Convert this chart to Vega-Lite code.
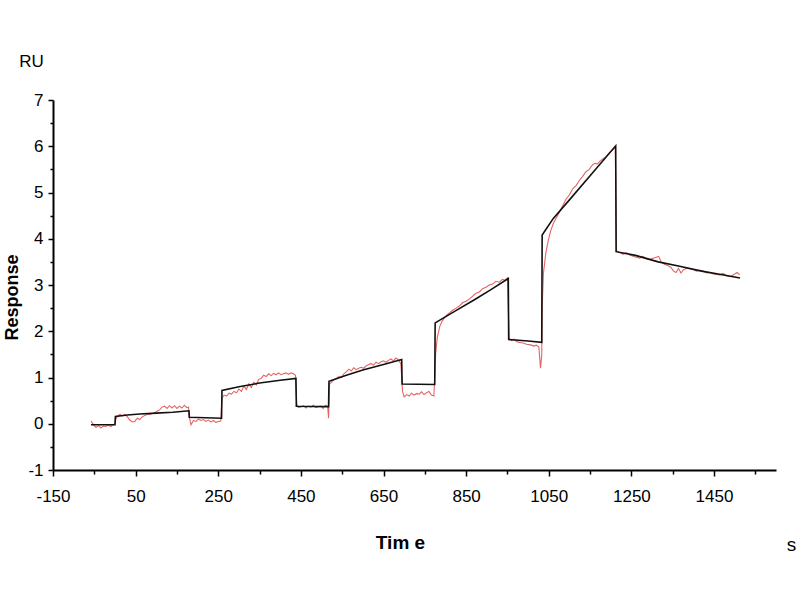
{
  "$schema": "https://vega.github.io/schema/vega-lite/v6.json",
  "width": 723,
  "height": 370,
  "autosize": {"type": "none"},
  "padding": {"left": 53, "top": 100, "right": 24, "bottom": 130},
  "background": "white",
  "config": {
    "font": "Liberation Sans Narrow, Liberation Sans, Arial, sans-serif",
    "view": {"stroke": null},
    "axis": {"grid": false, "labelColor": "black", "tickColor": "black", "domainColor": "black", "titleColor": "black", "labelFlush": false, "labelOverlap": false}
  },
  "datasets": {
    "measured": [
      {"t": -58, "v": 0.06}, {"t": -52, "v": -0.02}, {"t": -46, "v": -0.08}, {"t": -40, "v": -0.04}, {"t": -34, "v": -0.09},
      {"t": -28, "v": -0.05}, {"t": -22, "v": -0.06}, {"t": -16, "v": -0.03}, {"t": -10, "v": -0.06}, {"t": -4, "v": -0.02},
      {"t": 0, "v": 0.0}, {"t": 2, "v": 0.1}, {"t": 6, "v": 0.16}, {"t": 12, "v": 0.2}, {"t": 18, "v": 0.17},
      {"t": 24, "v": 0.2}, {"t": 30, "v": 0.15}, {"t": 36, "v": 0.08}, {"t": 42, "v": 0.04}, {"t": 48, "v": 0.05},
      {"t": 54, "v": 0.12}, {"t": 60, "v": 0.09}, {"t": 66, "v": 0.15}, {"t": 72, "v": 0.18}, {"t": 78, "v": 0.2},
      {"t": 84, "v": 0.2}, {"t": 90, "v": 0.22}, {"t": 96, "v": 0.24}, {"t": 102, "v": 0.27}, {"t": 108, "v": 0.3},
      {"t": 114, "v": 0.36}, {"t": 120, "v": 0.38}, {"t": 126, "v": 0.33}, {"t": 132, "v": 0.39}, {"t": 138, "v": 0.34},
      {"t": 144, "v": 0.39}, {"t": 150, "v": 0.33}, {"t": 156, "v": 0.38}, {"t": 162, "v": 0.34}, {"t": 168, "v": 0.4},
      {"t": 174, "v": 0.35}, {"t": 178, "v": 0.36},
      {"t": 180, "v": 0.14}, {"t": 184, "v": -0.02}, {"t": 190, "v": 0.07}, {"t": 196, "v": 0.05}, {"t": 202, "v": 0.1},
      {"t": 208, "v": 0.07}, {"t": 214, "v": 0.09}, {"t": 220, "v": 0.05}, {"t": 226, "v": 0.08}, {"t": 232, "v": 0.04},
      {"t": 238, "v": 0.07}, {"t": 244, "v": 0.03}, {"t": 250, "v": 0.05}, {"t": 256, "v": 0.06},
      {"t": 259, "v": 0.55}, {"t": 264, "v": 0.62}, {"t": 270, "v": 0.6}, {"t": 276, "v": 0.66}, {"t": 282, "v": 0.64},
      {"t": 288, "v": 0.7}, {"t": 294, "v": 0.67}, {"t": 300, "v": 0.75}, {"t": 306, "v": 0.7}, {"t": 312, "v": 0.82},
      {"t": 318, "v": 0.74}, {"t": 324, "v": 0.86}, {"t": 330, "v": 0.78}, {"t": 336, "v": 0.9}, {"t": 342, "v": 0.84},
      {"t": 348, "v": 0.96}, {"t": 354, "v": 0.98}, {"t": 360, "v": 1.05}, {"t": 366, "v": 1.02}, {"t": 372, "v": 1.08},
      {"t": 378, "v": 1.04}, {"t": 384, "v": 1.09}, {"t": 390, "v": 1.06}, {"t": 396, "v": 1.1}, {"t": 402, "v": 1.06},
      {"t": 408, "v": 1.08}, {"t": 414, "v": 1.1}, {"t": 420, "v": 1.07}, {"t": 426, "v": 1.1}, {"t": 432, "v": 1.08},
      {"t": 437, "v": 1.05},
      {"t": 440, "v": 0.42}, {"t": 444, "v": 0.35}, {"t": 450, "v": 0.36}, {"t": 456, "v": 0.39}, {"t": 462, "v": 0.34},
      {"t": 468, "v": 0.38}, {"t": 474, "v": 0.36}, {"t": 480, "v": 0.4}, {"t": 486, "v": 0.35}, {"t": 492, "v": 0.37},
      {"t": 498, "v": 0.38}, {"t": 504, "v": 0.33}, {"t": 510, "v": 0.4}, {"t": 515, "v": 0.36}, {"t": 517, "v": 0.12},
      {"t": 519, "v": 0.85}, {"t": 524, "v": 0.9}, {"t": 530, "v": 0.95}, {"t": 536, "v": 0.98}, {"t": 542, "v": 1.02},
      {"t": 548, "v": 1.0}, {"t": 554, "v": 1.08}, {"t": 560, "v": 1.12}, {"t": 566, "v": 1.18}, {"t": 572, "v": 1.14},
      {"t": 578, "v": 1.21}, {"t": 584, "v": 1.17}, {"t": 590, "v": 1.2}, {"t": 596, "v": 1.22}, {"t": 602, "v": 1.2},
      {"t": 608, "v": 1.25}, {"t": 614, "v": 1.28}, {"t": 620, "v": 1.3}, {"t": 626, "v": 1.27}, {"t": 632, "v": 1.33},
      {"t": 638, "v": 1.3}, {"t": 644, "v": 1.34}, {"t": 650, "v": 1.36}, {"t": 656, "v": 1.33}, {"t": 662, "v": 1.37},
      {"t": 668, "v": 1.4}, {"t": 674, "v": 1.36}, {"t": 680, "v": 1.42}, {"t": 686, "v": 1.38}, {"t": 692, "v": 1.3},
      {"t": 696, "v": 0.7}, {"t": 700, "v": 0.58}, {"t": 706, "v": 0.63}, {"t": 712, "v": 0.6}, {"t": 718, "v": 0.66},
      {"t": 724, "v": 0.62}, {"t": 730, "v": 0.65}, {"t": 736, "v": 0.64}, {"t": 742, "v": 0.69}, {"t": 748, "v": 0.63},
      {"t": 754, "v": 0.67}, {"t": 760, "v": 0.7}, {"t": 766, "v": 0.62}, {"t": 772, "v": 0.6},
      {"t": 776, "v": 1.5}, {"t": 780, "v": 1.85}, {"t": 786, "v": 2.1}, {"t": 792, "v": 2.22}, {"t": 798, "v": 2.3},
      {"t": 804, "v": 2.36}, {"t": 810, "v": 2.4}, {"t": 818, "v": 2.46}, {"t": 826, "v": 2.5}, {"t": 834, "v": 2.55},
      {"t": 842, "v": 2.62}, {"t": 850, "v": 2.65}, {"t": 858, "v": 2.7}, {"t": 866, "v": 2.76}, {"t": 874, "v": 2.82},
      {"t": 882, "v": 2.85}, {"t": 890, "v": 2.92}, {"t": 898, "v": 2.95}, {"t": 906, "v": 3.0}, {"t": 914, "v": 3.02},
      {"t": 922, "v": 3.08}, {"t": 930, "v": 3.06}, {"t": 938, "v": 3.12}, {"t": 944, "v": 3.1}, {"t": 950, "v": 3.15},
      {"t": 954, "v": 1.85}, {"t": 960, "v": 1.8}, {"t": 966, "v": 1.83}, {"t": 972, "v": 1.78}, {"t": 978, "v": 1.76},
      {"t": 984, "v": 1.75}, {"t": 990, "v": 1.74}, {"t": 996, "v": 1.72}, {"t": 1002, "v": 1.71}, {"t": 1008, "v": 1.7},
      {"t": 1014, "v": 1.68}, {"t": 1020, "v": 1.7}, {"t": 1026, "v": 1.66}, {"t": 1030, "v": 1.2}, {"t": 1033, "v": 1.5},
      {"t": 1034, "v": 2.5}, {"t": 1037, "v": 3.25}, {"t": 1043, "v": 3.7}, {"t": 1049, "v": 3.97}, {"t": 1055, "v": 4.18},
      {"t": 1061, "v": 4.33}, {"t": 1068, "v": 4.45}, {"t": 1076, "v": 4.58}, {"t": 1084, "v": 4.72}, {"t": 1092, "v": 4.86},
      {"t": 1100, "v": 4.95}, {"t": 1108, "v": 5.08}, {"t": 1116, "v": 5.15}, {"t": 1124, "v": 5.26}, {"t": 1132, "v": 5.35},
      {"t": 1140, "v": 5.45}, {"t": 1148, "v": 5.5}, {"t": 1156, "v": 5.6}, {"t": 1162, "v": 5.63}, {"t": 1168, "v": 5.62},
      {"t": 1174, "v": 5.68}, {"t": 1180, "v": 5.72}, {"t": 1188, "v": 5.77}, {"t": 1196, "v": 5.85}, {"t": 1204, "v": 5.92},
      {"t": 1211, "v": 5.98},
      {"t": 1214, "v": 3.74}, {"t": 1222, "v": 3.7}, {"t": 1230, "v": 3.66}, {"t": 1238, "v": 3.7}, {"t": 1246, "v": 3.65},
      {"t": 1254, "v": 3.62}, {"t": 1262, "v": 3.6}, {"t": 1270, "v": 3.58}, {"t": 1278, "v": 3.62}, {"t": 1286, "v": 3.57},
      {"t": 1294, "v": 3.55}, {"t": 1302, "v": 3.58}, {"t": 1310, "v": 3.6}, {"t": 1316, "v": 3.62}, {"t": 1322, "v": 3.5},
      {"t": 1330, "v": 3.45}, {"t": 1338, "v": 3.42}, {"t": 1346, "v": 3.38}, {"t": 1352, "v": 3.3}, {"t": 1358, "v": 3.27},
      {"t": 1364, "v": 3.36}, {"t": 1370, "v": 3.26}, {"t": 1376, "v": 3.33}, {"t": 1384, "v": 3.36}, {"t": 1392, "v": 3.35},
      {"t": 1400, "v": 3.33}, {"t": 1408, "v": 3.3}, {"t": 1416, "v": 3.32}, {"t": 1424, "v": 3.3}, {"t": 1432, "v": 3.26},
      {"t": 1440, "v": 3.27}, {"t": 1448, "v": 3.24}, {"t": 1456, "v": 3.23}, {"t": 1464, "v": 3.22}, {"t": 1472, "v": 3.25},
      {"t": 1480, "v": 3.2}, {"t": 1488, "v": 3.18}, {"t": 1494, "v": 3.2}, {"t": 1500, "v": 3.24}, {"t": 1506, "v": 3.27},
      {"t": 1512, "v": 3.22}
    ],
    "fit": [
      {"t": -58, "v": -0.02}, {"t": 0, "v": -0.02}, {"t": 1, "v": 0.16}, {"t": 30, "v": 0.19}, {"t": 60, "v": 0.21},
      {"t": 100, "v": 0.23}, {"t": 140, "v": 0.25}, {"t": 179, "v": 0.28},
      {"t": 180, "v": 0.14}, {"t": 258, "v": 0.12},
      {"t": 259, "v": 0.72}, {"t": 300, "v": 0.8}, {"t": 350, "v": 0.88}, {"t": 400, "v": 0.94}, {"t": 438, "v": 0.98},
      {"t": 439, "v": 0.38}, {"t": 517, "v": 0.37},
      {"t": 518, "v": 0.92}, {"t": 560, "v": 1.05}, {"t": 600, "v": 1.16}, {"t": 650, "v": 1.28}, {"t": 694, "v": 1.39},
      {"t": 695, "v": 0.86}, {"t": 774, "v": 0.85},
      {"t": 775, "v": 2.18}, {"t": 820, "v": 2.42}, {"t": 870, "v": 2.68}, {"t": 910, "v": 2.9}, {"t": 952, "v": 3.14},
      {"t": 953, "v": 1.82}, {"t": 1000, "v": 1.79}, {"t": 1033, "v": 1.76},
      {"t": 1034, "v": 4.08}, {"t": 1061, "v": 4.44}, {"t": 1100, "v": 4.84}, {"t": 1150, "v": 5.36}, {"t": 1212, "v": 6.01},
      {"t": 1213, "v": 3.72}, {"t": 1260, "v": 3.64}, {"t": 1315, "v": 3.5}, {"t": 1364, "v": 3.41}, {"t": 1420, "v": 3.3},
      {"t": 1470, "v": 3.22}, {"t": 1513, "v": 3.15}
    ]
  },
  "layer": [
    {
      "data": {"name": "measured"},
      "mark": {"type": "line", "color": "#e04848", "strokeWidth": 1.1, "opacity": 0.85, "clip": false},
      "encoding": {
        "x": {
          "field": "t", "type": "quantitative",
          "scale": {"domain": [-150, 1600], "nice": false, "zero": false},
          "axis": {
            "orient": "bottom",
            "values": [-150, 50, 250, 450, 650, 850, 1050, 1250, 1450],
            "labelExpr": "'' + datum.value",
            "title": "Tim e", "titleFontWeight": "bold", "titleFontSize": 19,
            "titleX": 347, "titleY": 78, "titleAlign": "center", "titleBaseline": "alphabetic",
            "labelFontSize": 17, "labelPadding": 12, "tickSize": 6, "tickWidth": 1.5, "domainWidth": 2
          }
        },
        "y": {
          "field": "v", "type": "quantitative",
          "scale": {"domain": [-1, 7], "nice": false, "zero": false},
          "axis": {
            "orient": "left",
            "values": [-1, 0, 1, 2, 3, 4, 5, 6, 7],
            "labelExpr": "'' + datum.value",
            "title": "Response", "titleAngle": 270, "titleFont": "Liberation Sans, Arial, sans-serif",
            "titleFontWeight": "bold", "titleFontSize": 18,
            "titleX": -36, "titleY": 197, "titleAlign": "center", "titleBaseline": "alphabetic",
            "labelFontSize": 17, "labelPadding": 5, "tickSize": 5, "tickWidth": 1.5, "domainWidth": 2
          }
        }
      }
    },
    {
      "data": {"name": "fit"},
      "mark": {"type": "line", "color": "#111111", "strokeWidth": 1.6, "clip": false},
      "encoding": {
        "x": {
          "field": "t", "type": "quantitative",
          "axis": {
            "orient": "bottom",
            "values": [-50, 150, 350, 550, 750, 950, 1150, 1350, 1550],
            "labels": false, "domain": false, "tickSize": 4, "tickWidth": 1.5,
            "title": "s", "titleFontWeight": "normal", "titleFontSize": 19,
            "titleX": 738, "titleY": 80, "titleAlign": "center", "titleBaseline": "alphabetic"
          }
        },
        "y": {
          "field": "v", "type": "quantitative",
          "axis": {
            "orient": "left",
            "values": [-0.5, 0.5, 1.5, 2.5, 3.5, 4.5, 5.5, 6.5],
            "labels": false, "domain": false, "tickSize": 3, "tickWidth": 1.5,
            "title": "RU", "titleAngle": 0, "titleFontWeight": "normal", "titleFontSize": 17,
            "titleX": -22, "titleY": -34, "titleAlign": "center", "titleBaseline": "alphabetic"
          }
        }
      }
    }
  ],
  "resolve": {"axis": {"x": "independent", "y": "independent"}}
}
